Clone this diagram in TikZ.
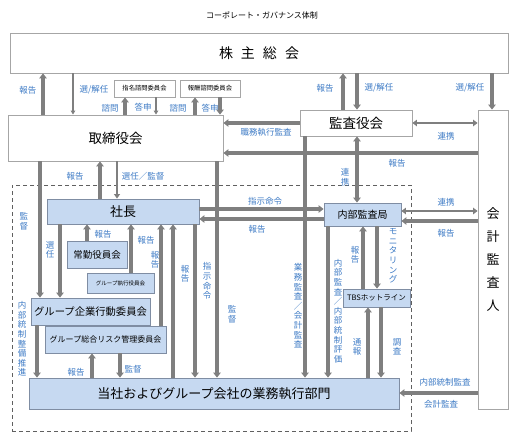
\documentclass[tikz,border=0pt]{standalone}
\usepackage{fontspec}
\setmainfont{Noto Sans CJK JP}
\usetikzlibrary{arrows.meta}
\definecolor{arr}{HTML}{7F7F7F}
\definecolor{lblue}{HTML}{3F7CC6}
\definecolor{bfill}{HTML}{C6D9F1}
\definecolor{bdraw}{HTML}{7F8DA3}
\definecolor{wdraw}{HTML}{A6A6A6}
\definecolor{dashc}{HTML}{606060}
\newcommand\fs[2]{\fontsize{#1}{#2}\selectfont}
\begin{document}
\begin{tikzpicture}[x=1pt,y=-1pt,
  wbox/.style={draw=wdraw, line width=0.9pt, fill=white, inner sep=0pt, text=black},
  bbox/.style={draw=bdraw, line width=0.9pt, fill=bfill, inner sep=0pt, text=black},
  lbl/.style={text=lblue, inner sep=0pt, font=\fs{8.5}{9.6}},
  vlbl/.style={lbl, align=center},
  ar/.style={draw=arr, line width=3.3pt, -{Triangle[length=5pt,width=7.5pt]}},
  arb/.style={draw=arr, line width=3.3pt, {Triangle[length=5pt,width=7.5pt]}-{Triangle[length=5pt,width=7.5pt]}},
  armid/.style={draw=arr, line width=2pt, -{Triangle[length=4.5pt,width=6pt]}},
  arbmid/.style={draw=arr, line width=2.2pt, {Triangle[length=4.5pt,width=6.5pt]}-{Triangle[length=4.5pt,width=6.5pt]}},
  arthin/.style={draw=arr, line width=1.2pt, -{Triangle[length=4pt,width=4.5pt]}}
]
\useasboundingbox[fill=white] (0,0) rectangle (516,439);

% frame of the executive group
\node[draw=dashc, dashed, dash pattern=on 4pt off 3pt, line width=1pt, minimum width=399pt, minimum height=246pt, inner sep=0pt] (grp) at (211.5,308) {};

% title
\node[font=\fs{8}{9}, inner sep=0pt] (title) at (262,15) {コーポレート・ガバナンス体制};

% boxes
\node[wbox, minimum width=498pt, minimum height=40pt, font=\fs{14}{16}] (kabu) at (259,53) {株\hspace{8pt}主\hspace{8pt}総\hspace{8pt}会};
\node[wbox, minimum width=215pt, minimum height=46pt, font=\fs{13.5}{15}] (tor) at (115.5,138) {取締役会};
\node[wbox, minimum width=61pt, minimum height=17pt, font=\fs{6.3}{7}] (shimei) at (144.5,88.5) {指名諮問委員会};
\node[wbox, minimum width=60pt, minimum height=17pt, font=\fs{6.3}{7}] (hoshu) at (210,88.5) {報酬諮問委員会};
\node[wbox, minimum width=112pt, minimum height=26pt, font=\fs{13.5}{15}] (kansa) at (356,123) {監査役会};
\node[wbox, minimum width=30pt, minimum height=299pt, font=\fs{13}{23}, align=center] (kaikei) at (493,259.5) {会\\計\\監\\査\\人};
\node[bbox, minimum width=152pt, minimum height=25pt, font=\fs{13}{15}] (shacho) at (123,211.5) {社長};
\node[bbox, minimum width=77pt, minimum height=23pt, font=\fs{10}{12}] (naibu) at (362.5,214.5) {内部監査局};
\node[bbox, minimum width=60pt, minimum height=27pt, font=\fs{9.5}{11}] (jokin) at (97,254.5) {常勤役員会};
\node[bbox, minimum width=67pt, minimum height=20pt, font=\fs{5.5}{6}] (gshikko) at (120.5,283) {グループ執行役員会};
\node[bbox, minimum width=119pt, minimum height=27pt, font=\fs{10.3}{12}] (gkigyo) at (90.5,311.5) {グループ企業行動委員会};
\node[bbox, minimum width=121pt, minimum height=27pt, font=\fs{8}{9}] (grisk) at (105.5,339.5) {グループ総合リスク管理委員会};
\node[bbox, minimum width=370pt, minimum height=31pt, font=\fs{13}{15}] (gyomu) at (214,393.5) {当社およびグループ会社の業務執行部門};
\node[bbox, minimum width=67pt, minimum height=18pt, font=\fs{7.5}{9}] (tbs) at (376.5,298) {TBSホットライン};

% connectors: shareholders
\draw[ar] (43,0 |- tor.north) -- (43,0 |- kabu.south);
\draw[arthin] (73,0 |- kabu.south) -- (73,0 |- tor.north);
\draw[ar] (125,0 |- tor.north) -- (125,0 |- shimei.south);
\draw[arthin] (156,0 |- shimei.south) -- (156,0 |- tor.north);
\draw[ar] (195,0 |- tor.north) -- (195,0 |- hoshu.south);
\draw[ar] (220,0 |- hoshu.south) -- (220,0 |- tor.north);
\draw[ar] (343,0 |- kansa.north) -- (343,0 |- kabu.south);
\draw[ar] (357,0 |- kabu.south) -- (357,0 |- kansa.north);
\draw[ar] (492,0 |- kabu.south) -- (492,0 |- kaikei.north);

% board level horizontals
\draw[ar] (kansa.west |- 0,123) -- (tor.east |- 0,123);
\draw[ar] (kaikei.west |- 0,153) -- (tor.east |- 0,153);
\draw[arbmid] (kansa.east |- 0,123) -- (kaikei.west |- 0,123);
\draw[arb] (357,0 |- kansa.south) -- (357,0 |- naibu.north);
\draw[ar] (305,0 |- kansa.south) -- (305,0 |- gyomu.north);

% board to president
\draw[ar] (100,0 |- shacho.north) -- (100,0 |- tor.south);
\draw[armid] (117,0 |- tor.south) -- (117,0 |- shacho.north);
\draw[ar] (40,0 |- tor.south) -- (40,0 |- gkigyo.north);
\draw[ar] (217,0 |- tor.south) -- (217,0 |- gyomu.north);

% president <-> internal audit
\draw[ar] (shacho.east |- 0,209) -- (naibu.west |- 0,209);
\draw[ar] (naibu.west |- 0,219) -- (shacho.east |- 0,219);
\draw[arbmid] (naibu.east |- 0,211) -- (kaikei.west |- 0,211);
\draw[ar] (kaikei.west |- 0,221) -- (naibu.east |- 0,221);

% president and committees
\draw[ar] (87,0 |- jokin.north) -- (87,0 |- shacho.south);
\draw[ar] (131,0 |- gshikko.north) -- (131,0 |- shacho.south);
\draw[ar] (60,0 |- shacho.south) -- (60,0 |- gkigyo.north);
\draw[ar] (161,0 |- grisk.north) -- (161,0 |- shacho.south);
\draw[ar] (173,0 |- gyomu.north) -- (173,0 |- shacho.south);
\draw[ar] (195,0 |- shacho.south) -- (195,0 |- gyomu.north);
\draw[ar] (37,0 |- gkigyo.south) -- (37,0 |- gyomu.north);
\draw[ar] (92,0 |- gyomu.north) -- (92,0 |- grisk.south);
\draw[ar] (120,0 |- grisk.south) -- (120,0 |- gyomu.north);

% internal audit / hotline
\draw[ar] (328,0 |- naibu.south) -- (328,0 |- gyomu.north);
\draw[ar] (363,0 |- tbs.north) -- (363,0 |- naibu.south);
\draw[ar] (377,0 |- naibu.south) -- (377,0 |- tbs.north);
\draw[ar] (368,0 |- gyomu.north) -- (368,0 |- tbs.south);
\draw[ar] (381,0 |- tbs.south) -- (381,0 |- gyomu.north);
\draw[ar] (kaikei.west |- 0,393) -- (gyomu.east |- 0,393);

% horizontal labels
\node[lbl] (l1) at (28,90) {報告};
\node[lbl] (l2) at (94,90) {選/解任};
\node[lbl] (l3) at (110,108) {諮問};
\node[lbl] (l4) at (143,107) {答申};
\node[lbl] (l5) at (178,108) {諮問};
\node[lbl] (l6) at (210,108) {答申};
\node[lbl] (l7) at (325,88) {報告};
\node[lbl] (l8) at (379,88) {選/解任};
\node[lbl] (l9) at (470,88) {選/解任};
\node[lbl] (l10) at (266,132) {職務執行監査};
\node[lbl] (l11) at (446,136) {連携};
\node[lbl] (l12) at (397,163) {報告};
\node[lbl] (l13) at (75,176) {報告};
\node[lbl] (l14) at (143,176) {選任／監督};
\node[lbl] (l15) at (265,201) {指示命令};
\node[lbl] (l16) at (257,229) {報告};
\node[lbl] (l17) at (446,202) {連携};
\node[lbl] (l18) at (446,233) {報告};
\node[lbl] (l19) at (103,234) {報告};
\node[lbl] (l20) at (146,240) {報告};
\node[lbl] (l21) at (76,372) {報告};
\node[lbl] (l22) at (133,369) {監督};
\node[lbl] (l23) at (445,382) {内部統制監査};
\node[lbl] (l24) at (441,404) {会計監査};

% vertical labels
\node[vlbl] (v1) at (24,221) {監\\督};
\node[vlbl] (v2) at (50,250) {選\\任};
\node[vlbl] (v3) at (22,339) {内\\部\\統\\制\\整\\備\\推\\進};
\node[vlbl] (v4) at (155,260) {報\\告};
\node[vlbl] (v5) at (185,274) {報\\告};
\node[vlbl] (v6) at (207,281) {指\\示\\命\\令};
\node[vlbl] (v7) at (232,314) {監\\督};
\node[vlbl] (v8) at (298,306) {業\\務\\監\\査\\／\\会\\計\\監\\査};
\node[vlbl] (v9) at (338,311) {内\\部\\監\\査\\／\\内\\部\\統\\制\\評\\価};
\node[vlbl] (v10) at (345,177) {連\\携};
\node[vlbl] (v11) at (355,255) {報\\告};
\node[vlbl] (v12) at (393,256) {モ\\ニ\\タ\\リ\\ン\\グ};
\node[vlbl] (v13) at (357,347) {通\\報};
\node[vlbl] (v14) at (397,347) {調\\査};
\end{tikzpicture}
\end{document}
